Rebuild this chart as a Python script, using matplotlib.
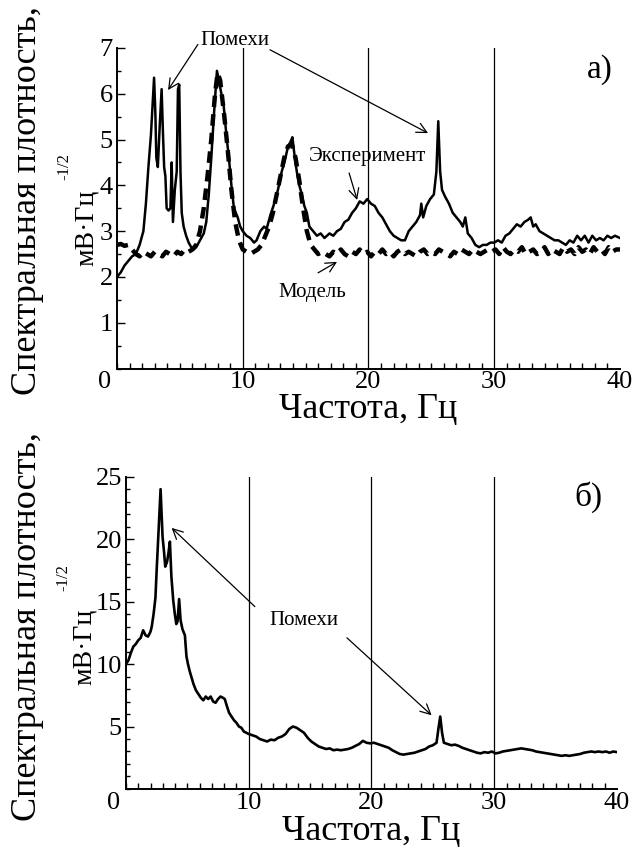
import matplotlib
matplotlib.use("Agg")
import matplotlib.pyplot as plt
from matplotlib.ticker import MultipleLocator

plt.rcParams['font.family'] = ['Liberation Serif', 'DejaVu Serif']

# panel a) - experiment (solid)
exp_f = [0.0, 0.3, 0.6, 0.9, 1.2, 1.5, 1.8, 2.1, 2.3, 2.5, 2.7, 2.8, 2.95, 3.05, 3.13,
         3.25, 3.4, 3.55, 3.65, 3.75, 3.85, 3.95, 4.1, 4.25, 4.35, 4.45, 4.6, 4.75, 4.85,
         4.95, 5.05, 5.15, 5.3, 5.5, 5.7, 5.9, 6.1, 6.3, 6.6, 6.9, 7.1, 7.3, 7.5, 7.7,
         7.85, 7.95, 8.1, 8.3, 8.5, 8.7, 8.9, 9.1, 9.3, 9.6, 9.8, 10.0, 10.3, 10.6, 10.9,
         11.1, 11.4, 11.7, 11.9, 12.2, 12.5, 12.8, 13.1, 13.4, 13.6, 13.8, 13.95, 14.1,
         14.3, 14.5, 14.7, 14.9, 15.1, 15.3, 15.6, 15.9, 16.2, 16.5, 16.9, 17.2, 17.5,
         17.8, 18.1, 18.4, 18.7, 19.0, 19.3, 19.6, 19.9, 20.2, 20.5, 20.8, 21.1, 21.4,
         21.7, 22.0, 22.3, 22.6, 22.9, 23.2, 23.5, 23.8, 24.1, 24.2, 24.35, 24.6, 24.9,
         25.2, 25.4, 25.55, 25.7, 25.85, 26.1, 26.4, 26.7, 27.0, 27.3, 27.5, 27.7, 27.9,
         28.2, 28.5, 28.8, 29.1, 29.4, 29.7, 30.0, 30.3, 30.6, 30.9, 31.2, 31.5, 31.8,
         32.1, 32.4, 32.7, 32.9, 33.1, 33.3, 33.6, 33.9, 34.2, 34.5, 34.8, 35.1, 35.4,
         35.7, 36.0, 36.3, 36.6, 36.9, 37.2, 37.5, 37.8, 38.1, 38.4, 38.7, 39.0, 39.3,
         39.6, 40.0]
exp_v = [2.0, 2.1, 2.25, 2.35, 2.45, 2.5, 2.7, 3.0, 3.6, 4.4, 5.1, 5.6, 6.35, 5.6, 4.6,
         4.4, 5.3, 6.1, 5.2, 4.4, 4.2, 3.5, 3.45, 3.5, 4.5, 3.2, 3.9, 4.3, 6.1,
         6.2, 4.3, 3.4, 3.1, 2.9, 2.75, 2.65, 2.6, 2.65, 2.8, 2.95, 3.2, 3.8, 4.6, 5.5,
         6.1, 6.5, 6.3, 6.0, 5.7, 5.1, 4.6, 4.0, 3.5, 3.3, 3.1, 3.0, 2.9, 2.85, 2.75,
         2.8, 3.0, 3.1, 3.05, 3.35, 3.6, 3.9, 4.3, 4.6, 4.85, 4.95, 5.05, 4.7,
         4.3, 4.0, 3.8, 3.55, 3.4, 3.1, 3.0, 2.9, 2.95, 2.85, 2.95, 2.9, 3.0,
         3.05, 3.2, 3.25, 3.4, 3.5, 3.65, 3.6, 3.7, 3.6, 3.55, 3.4, 3.3, 3.15,
         3.0, 2.9, 2.85, 2.8, 2.8, 3.0, 3.1, 3.2, 3.35, 3.6, 3.3, 3.55, 3.7,
         3.8, 4.3, 5.4, 4.3, 3.9, 3.75, 3.6, 3.4, 3.3, 3.2, 3.1, 3.3, 2.95,
         2.85, 2.7, 2.65, 2.7, 2.7, 2.75, 2.75, 2.8, 2.75, 2.9, 2.95, 3.05, 3.15,
         3.1, 3.2, 3.25, 3.3, 3.1, 3.15, 3.0, 2.95, 2.9, 2.85, 2.8, 2.8, 2.75,
         2.7, 2.8, 2.75, 2.9, 2.8, 2.9, 2.75, 2.9, 2.8, 2.85, 2.8, 2.9, 2.85,
         2.9, 2.85]

# panel a) - model (dashed)
mod_f = [0.0, 0.3, 0.6, 0.9, 1.2, 1.5, 1.8, 2.1, 2.4, 2.7, 3.0, 3.3, 3.6, 3.9, 4.2, 4.5,
         4.8, 5.1, 5.4, 5.7, 6.0, 6.3, 6.6, 6.9, 7.2, 7.5, 7.8, 8.0, 8.2, 8.5, 8.8, 9.1,
         9.4, 9.7, 10.0, 10.3, 10.6, 10.9, 11.2, 11.5, 11.8, 12.1, 12.4, 12.7, 13.0,
         13.3, 13.6, 13.9, 14.2, 14.5, 14.8, 15.1, 15.4, 15.7, 16.0, 16.3, 16.6, 16.9,
         17.2, 17.5, 17.8, 18.1, 18.4, 18.7, 19.0, 19.3, 19.6, 19.9, 20.2, 20.5, 20.8,
         21.1, 21.4, 21.7, 22.0, 22.3, 22.6, 22.9, 23.2, 23.5, 23.8, 24.1, 24.4, 24.7,
         25.0, 25.3, 25.6, 25.9, 26.2, 26.5, 26.8, 27.1, 27.4, 27.7, 28.0, 28.3, 28.6,
         28.9, 29.2, 29.5, 29.8, 30.1, 30.4, 30.7, 31.0, 31.3, 31.6, 31.9, 32.2, 32.5,
         32.8, 33.1, 33.4, 33.7, 34.0, 34.3, 34.6, 34.9, 35.2, 35.5, 35.8, 36.1, 36.4,
         36.7, 37.0, 37.3, 37.6, 37.9, 38.2, 38.5, 38.8, 39.1, 39.4, 39.7, 40.0]
mod_v = [2.7, 2.72, 2.68, 2.7, 2.6, 2.5, 2.45, 2.55, 2.5, 2.45, 2.55, 2.5, 2.45, 2.55, 2.5, 2.45,
         2.55, 2.5, 2.6, 2.55, 2.6, 2.7, 3.0, 3.5, 4.2, 5.0, 6.0, 6.45, 6.3, 5.6, 4.8, 3.9,
         3.2, 2.8, 2.6, 2.55, 2.5, 2.55, 2.6, 2.7, 2.9, 3.1, 3.4, 3.8, 4.2,
         4.6, 4.85, 4.9, 4.6, 4.1, 3.5, 3.0, 2.7, 2.6, 2.5, 2.55, 2.5, 2.45,
         2.55, 2.5, 2.6, 2.5, 2.45, 2.55, 2.5, 2.6, 2.5, 2.55, 2.45, 2.55, 2.5,
         2.6, 2.5, 2.55, 2.45, 2.55, 2.6, 2.5, 2.55, 2.5, 2.45, 2.55, 2.6, 2.5,
         2.55, 2.5, 2.6, 2.55, 2.5, 2.45, 2.55, 2.5, 2.6, 2.55, 2.5, 2.6, 2.55,
         2.5, 2.55, 2.6, 2.55, 2.6, 2.5, 2.65, 2.55, 2.5, 2.6, 2.55, 2.65, 2.5,
         2.55, 2.6, 2.5, 2.55, 2.65, 2.5, 2.6, 2.55, 2.5, 2.65, 2.55, 2.6, 2.5,
         2.65, 2.55, 2.6, 2.5, 2.65, 2.55, 2.6, 2.5, 2.65, 2.55, 2.6, 2.6]

# panel b)
b_f = [0.0, 0.2, 0.4, 0.6, 0.8, 1.0, 1.2, 1.4, 1.6, 1.8, 2.0, 2.1, 2.25, 2.4, 2.5, 2.6,
       2.7, 2.82, 2.9, 2.98, 3.1, 3.2, 3.35, 3.45, 3.58, 3.7, 3.85, 3.98, 4.1, 4.2, 4.33,
       4.45, 4.6, 4.8, 4.93, 5.05, 5.2, 5.35, 5.5, 5.7, 5.9, 6.1, 6.3, 6.5, 6.7, 6.9,
       7.1, 7.3, 7.5, 7.7, 7.9, 8.05, 8.2, 8.4, 8.6, 8.8, 9.0, 9.2, 9.4, 9.6, 9.8, 10.0,
       10.3, 10.6, 10.9, 11.2, 11.5, 11.8, 12.1, 12.4, 12.7, 13.0, 13.3, 13.6, 13.9,
       14.2, 14.5, 14.8, 15.1, 15.4, 15.7, 16.0, 16.3, 16.6, 16.9, 17.2, 17.5, 17.8,
       18.1, 18.4, 18.7, 19.0, 19.3, 19.6, 19.9, 20.2, 20.5, 20.8, 21.1, 21.4, 21.7,
       22.0, 22.3, 22.6, 22.9, 23.2, 23.5, 23.8, 24.1, 24.4, 24.7, 25.0, 25.3, 25.45,
       25.6, 25.75, 25.9, 26.2, 26.5, 26.8, 27.1, 27.4, 27.7, 28.0, 28.3, 28.6, 28.9,
       29.2, 29.5, 29.8, 30.1, 30.4, 30.7, 31.0, 31.3, 31.6, 31.9, 32.2, 32.5, 32.8,
       33.1, 33.4, 33.7, 34.0, 34.3, 34.6, 34.9, 35.2, 35.5, 35.8, 36.1, 36.4, 36.7,
       37.0, 37.3, 37.6, 37.9, 38.2, 38.5, 38.8, 39.1, 39.4, 39.7, 40.0]
b_v = [10.0, 10.3, 10.9, 11.4, 11.6, 11.9, 12.1, 12.7, 12.3, 12.2, 12.6, 13.0, 14.0, 15.3, 17.5, 19.5,
       21.5, 24.0, 22.0, 20.2, 19.0, 17.8, 18.2, 18.8, 19.8, 17.0, 15.1, 14.0, 13.2, 13.4, 15.2,
       13.5, 12.8, 12.3, 10.6, 10.0, 9.4, 8.9, 8.4, 7.9, 7.6, 7.3, 7.1, 7.4, 7.2, 7.4,
       7.0, 6.9, 7.2, 7.4, 7.3, 7.2, 6.7, 6.1, 5.8, 5.5, 5.3, 5.0, 4.9, 4.6, 4.5, 4.4,
       4.3, 4.2, 4.0, 3.9, 3.8, 3.95, 3.9, 4.1, 4.2, 4.4, 4.8, 5.0, 4.9,
       4.7, 4.5, 4.1, 3.8, 3.6, 3.4, 3.3, 3.2, 3.25, 3.1, 3.15, 3.1, 3.15,
       3.2, 3.3, 3.45, 3.6, 3.85, 3.7, 3.65, 3.7, 3.6, 3.5, 3.4, 3.3, 3.1,
       2.95, 2.8, 2.75, 2.8, 2.85, 2.9, 3.0, 3.1, 3.2, 3.4, 3.5, 3.7, 4.8,
       5.8, 4.5, 3.7, 3.6, 3.5, 3.55, 3.45, 3.3, 3.2, 3.1, 3.0, 2.9, 2.85,
       2.95, 2.9, 3.0, 2.85, 2.9, 3.0, 3.05, 3.1, 3.15, 3.2, 3.25, 3.2, 3.15,
       3.1, 3.0, 2.95, 2.9, 2.85, 2.8, 2.75, 2.7, 2.65, 2.7, 2.65, 2.7, 2.75,
       2.8, 2.9, 2.95, 3.0, 2.95, 3.0, 2.95, 3.0, 2.9, 3.0, 2.95]

a_yticks = [1, 2, 3, 4, 5, 6, 7]
b_yticks = [5, 10, 15, 20, 25]
x_ticks = [10, 20, 30, 40]
grid_x = [10, 20, 30]


def style_axes(ax, ymax, yminor, yticks):
    ax.set_xlim(0, 40)
    ax.set_ylim(0, ymax)
    for s in ['top', 'right']:
        ax.spines[s].set_visible(False)
    for s in ['left', 'bottom']:
        ax.spines[s].set_linewidth(1.4)
    ax.set_xticks(x_ticks)
    ax.xaxis.set_minor_locator(MultipleLocator(1))
    ax.set_yticks(yticks)
    ax.yaxis.set_minor_locator(MultipleLocator(yminor))
    ax.tick_params(which='both', direction='in', labelsize=19, width=1)
    ax.tick_params(axis='y', which='major', length=6, pad=3)
    ax.tick_params(axis='y', which='minor', length=3)
    ax.tick_params(axis='x', which='major', length=0, pad=2)
    ax.tick_params(axis='x', which='minor', length=4)
    for g in grid_x:
        ax.axvline(g, color='black', lw=0.9, zorder=1)
    ax.annotate('0', xy=(0, 0), xycoords=('data', 'axes fraction'),
                xytext=(-4, -2), textcoords='offset points',
                ha='right', va='top', fontsize=19)


fig = plt.figure(figsize=(6.33, 8.5), dpi=100)
arrow = dict(arrowstyle='->', color='black', lw=0.9, shrinkA=0, shrinkB=0,
             mutation_scale=18)

# ---- a) ----
ax1 = fig.add_axes([0.1848, 0.5664, 0.7946, 0.3772])
style_axes(ax1, 7, 0.5, a_yticks)
ax1.plot(exp_f, exp_v, color='black', lw=1.8, zorder=3)
ax1.plot(mod_f, mod_v, color='black', lw=3.2, ls=(0, (2.6, 1.6)), zorder=3)
ax1.set_xlabel('Частота, Гц', fontsize=26, labelpad=0)

ax1.annotate('Помехи', xy=(4.06, 6.08), xytext=(9.4, 7.17), fontsize=15,
             ha='center', va='center', annotation_clip=False,
             arrowprops=dict(arrow, relpos=(0.0, 0.5)))
ax1.annotate('', xy=(24.74, 5.14), xytext=(12.17, 6.96),
             annotation_clip=False, arrowprops=arrow)
ax1.text(19.9, 4.62, 'Эксперимент', fontsize=15, ha='center', va='center')
ax1.annotate('', xy=(19.1, 3.68), xytext=(18.46, 4.27), arrowprops=arrow)
ax1.text(15.5, 1.65, 'Модель', fontsize=15, ha='center', va='center')
ax1.annotate('', xy=(17.5, 2.33), xytext=(15.99, 2.09), arrowprops=arrow)
ax1.text(38.4, 6.52, 'а)', fontsize=24, ha='center', va='center')

fig.text(28 / 633, 1 - 201 / 850, 'Спектральная плотность,', rotation=90,
         fontsize=26, ha='center', va='center')
fig.text(86 / 633, 1 - 228 / 850, 'мВ·Гц', rotation=90,
         fontsize=20, ha='center', va='center')
fig.text(64 / 633, 1 - 167 / 850, '-1/2', rotation=90,
         fontsize=12, ha='center', va='center')

# ---- б) ----
ax2 = fig.add_axes([0.199, 0.0718, 0.7757, 0.3674])
style_axes(ax2, 25, 1, b_yticks)
ax2.plot(b_f, b_v, color='black', lw=1.9, zorder=3)
ax2.set_xlabel('Частота, Гц', fontsize=26, labelpad=1)

ax2.annotate('', xy=(3.72, 20.9), xytext=(10.5, 14.6), arrowprops=arrow)
ax2.annotate('', xy=(24.9, 5.9), xytext=(18.0, 12.1), arrowprops=arrow)
ax2.text(14.5, 13.5, 'Помехи', fontsize=15, ha='center', va='center')
ax2.text(37.65, 23.4, 'б)', fontsize=24, ha='center', va='center')

fig.text(28 / 633, 1 - 627 / 850, 'Спектральная плотность,', rotation=90,
         fontsize=26, ha='center', va='center')
fig.text(84 / 633, 1 - 647 / 850, 'мВ·Гц', rotation=90,
         fontsize=20, ha='center', va='center')
fig.text(63 / 633, 1 - 578 / 850, '-1/2', rotation=90,
         fontsize=12, ha='center', va='center')

fig.savefig('out.png', dpi=100)
